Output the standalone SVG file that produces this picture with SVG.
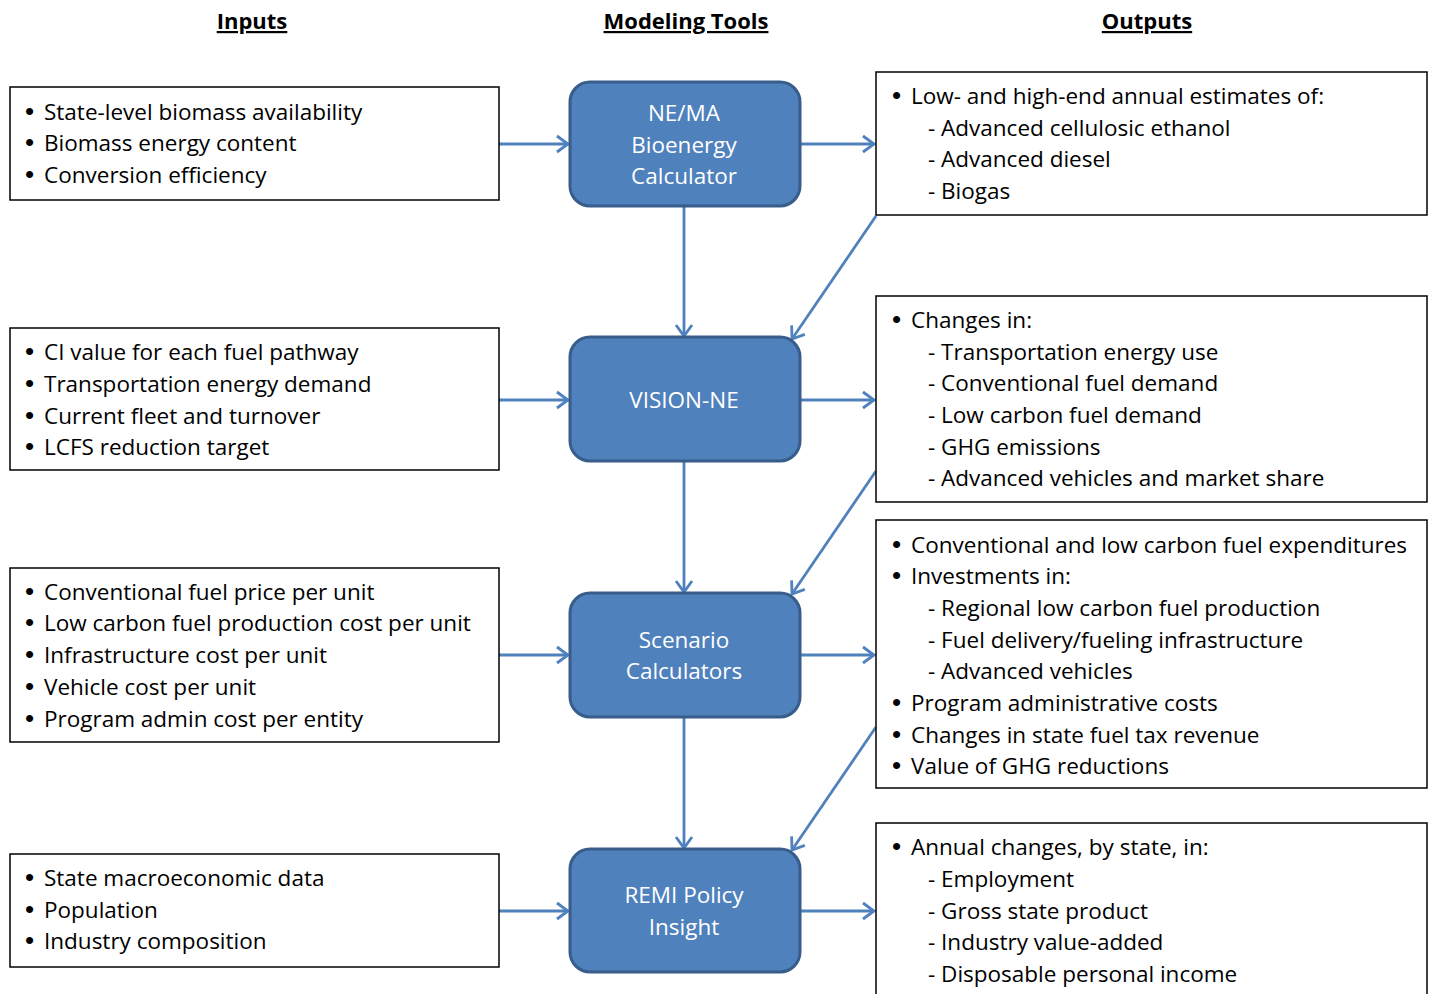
<svg xmlns="http://www.w3.org/2000/svg" width="1433" height="994" viewBox="0 0 1433 994">
<defs>
<style>
.box{fill:#fff;stroke:#000;stroke-width:1.5}
.tool{fill:#4F81BD;stroke:#385D8A;stroke-width:3}
.t{font-family:"Open Sans","Noto Sans",sans-serif;font-size:22.5px;fill:#000}
.b{font-family:"Liberation Sans",sans-serif;font-size:26px}
.w{font-family:"Open Sans","Noto Sans",sans-serif;font-size:22.5px;fill:#fff;text-anchor:middle}
.h{font-family:"Open Sans","Noto Sans",sans-serif;font-size:22px;font-weight:bold;fill:#000;text-anchor:middle;text-decoration:underline}
.c{stroke:#4F81BD;stroke-width:2.8;fill:none;marker-end:url(#ah)}
</style>
<marker id="ah" markerUnits="userSpaceOnUse" markerWidth="20" markerHeight="20" viewBox="0 0 20 20" refX="14" refY="10" orient="auto">
<path d="M3,2 L14,10 L3,18" fill="none" stroke="#4F81BD" stroke-width="2.8"/>
</marker>
</defs>
<rect width="1433" height="994" fill="#fff"/>
<g id="headers">
<text class="h" x="252" y="29">Inputs</text>
<text class="h" x="686" y="29">Modeling Tools</text>
<text class="h" x="1147" y="29">Outputs</text>
</g>
<g id="connectors">
<line class="c" x1="499" y1="144" x2="568" y2="144"/>
<line class="c" x1="499" y1="400" x2="568" y2="400"/>
<line class="c" x1="499" y1="655" x2="568" y2="655"/>
<line class="c" x1="499" y1="911" x2="568" y2="911"/>
<line class="c" x1="800" y1="144" x2="874" y2="144"/>
<line class="c" x1="800" y1="400" x2="874" y2="400"/>
<line class="c" x1="800" y1="655" x2="874" y2="655"/>
<line class="c" x1="800" y1="911" x2="874" y2="911"/>
<line class="c" x1="684" y1="206" x2="684" y2="336"/>
<line class="c" x1="684" y1="461" x2="684" y2="592"/>
<line class="c" x1="684" y1="717" x2="684" y2="848"/>
<line class="c" x1="876" y1="216" x2="792" y2="339"/>
<line class="c" x1="876" y1="471" x2="792" y2="594"/>
<line class="c" x1="876" y1="727" x2="792" y2="850"/>
</g>
<g id="in1">
<rect class="box" x="10" y="87" width="489" height="113"/>
<text class="t"><tspan class="b" x="25" y="120">•</tspan><tspan x="44">State-level biomass availability</tspan></text>
<text class="t"><tspan class="b" x="25" y="151">•</tspan><tspan x="44">Biomass energy content</tspan></text>
<text class="t"><tspan class="b" x="25" y="183">•</tspan><tspan x="44">Conversion efficiency</tspan></text>
</g>
<g id="in2">
<rect class="box" x="10" y="328" width="489" height="142"/>
<text class="t"><tspan class="b" x="25" y="360">•</tspan><tspan x="44">CI value for each fuel pathway</tspan></text>
<text class="t"><tspan class="b" x="25" y="392">•</tspan><tspan x="44">Transportation energy demand</tspan></text>
<text class="t"><tspan class="b" x="25" y="424">•</tspan><tspan x="44">Current fleet and turnover</tspan></text>
<text class="t"><tspan class="b" x="25" y="455">•</tspan><tspan x="44">LCFS reduction target</tspan></text>
</g>
<g id="in3">
<rect class="box" x="10" y="568" width="489" height="174"/>
<text class="t"><tspan class="b" x="25" y="600">•</tspan><tspan x="44">Conventional fuel price per unit</tspan></text>
<text class="t"><tspan class="b" x="25" y="631">•</tspan><tspan x="44">Low carbon fuel production cost per unit</tspan></text>
<text class="t"><tspan class="b" x="25" y="663">•</tspan><tspan x="44">Infrastructure cost per unit</tspan></text>
<text class="t"><tspan class="b" x="25" y="695">•</tspan><tspan x="44">Vehicle cost per unit</tspan></text>
<text class="t"><tspan class="b" x="25" y="727">•</tspan><tspan x="44">Program admin cost per entity</tspan></text>
</g>
<g id="in4">
<rect class="box" x="10" y="854" width="489" height="113"/>
<text class="t"><tspan class="b" x="25" y="886">•</tspan><tspan x="44">State macroeconomic data</tspan></text>
<text class="t"><tspan class="b" x="25" y="918">•</tspan><tspan x="44">Population</tspan></text>
<text class="t"><tspan class="b" x="25" y="949">•</tspan><tspan x="44">Industry composition</tspan></text>
</g>
<g id="tool1">
<rect class="tool" x="570" y="82" width="230" height="124" rx="20"/>
<text class="w" x="684" y="121">NE/MA</text>
<text class="w" x="684" y="153">Bioenergy</text>
<text class="w" x="684" y="184">Calculator</text>
</g>
<g id="tool2">
<rect class="tool" x="570" y="337" width="230" height="124" rx="20"/>
<text class="w" x="684" y="408">VISION-NE</text>
</g>
<g id="tool3">
<rect class="tool" x="570" y="593" width="230" height="124" rx="20"/>
<text class="w" x="684" y="648">Scenario</text>
<text class="w" x="684" y="679">Calculators</text>
</g>
<g id="tool4">
<rect class="tool" x="570" y="849" width="230" height="123" rx="20"/>
<text class="w" x="684" y="903">REMI Policy</text>
<text class="w" x="684" y="935">Insight</text>
</g>
<g id="out1">
<rect class="box" x="876" y="72" width="551" height="143"/>
<text class="t"><tspan class="b" x="892" y="104">•</tspan><tspan x="911">Low- and high-end annual estimates of:</tspan></text>
<text class="t" x="928" y="136">- Advanced cellulosic ethanol</text>
<text class="t" x="928" y="167">- Advanced diesel</text>
<text class="t" x="928" y="199">- Biogas</text>
</g>
<g id="out2">
<rect class="box" x="876" y="296" width="551" height="206"/>
<text class="t"><tspan class="b" x="892" y="328">•</tspan><tspan x="911">Changes in:</tspan></text>
<text class="t" x="928" y="360">- Transportation energy use</text>
<text class="t" x="928" y="391">- Conventional fuel demand</text>
<text class="t" x="928" y="423">- Low carbon fuel demand</text>
<text class="t" x="928" y="455">- GHG emissions</text>
<text class="t" x="928" y="486">- Advanced vehicles and market share</text>
</g>
<g id="out3">
<rect class="box" x="876" y="520" width="551" height="268"/>
<text class="t"><tspan class="b" x="892" y="553">•</tspan><tspan x="911">Conventional and low carbon fuel expenditures</tspan></text>
<text class="t"><tspan class="b" x="892" y="584">•</tspan><tspan x="911">Investments in:</tspan></text>
<text class="t" x="928" y="616">- Regional low carbon fuel production</text>
<text class="t" x="928" y="648">- Fuel delivery/fueling infrastructure</text>
<text class="t" x="928" y="679">- Advanced vehicles</text>
<text class="t"><tspan class="b" x="892" y="711">•</tspan><tspan x="911">Program administrative costs</tspan></text>
<text class="t"><tspan class="b" x="892" y="743">•</tspan><tspan x="911">Changes in state fuel tax revenue</tspan></text>
<text class="t"><tspan class="b" x="892" y="774">•</tspan><tspan x="911">Value of GHG reductions</tspan></text>
</g>
<g id="out4">
<rect class="box" x="876" y="823" width="551" height="190"/>
<text class="t"><tspan class="b" x="892" y="855">•</tspan><tspan x="911">Annual changes, by state, in:</tspan></text>
<text class="t" x="928" y="887">- Employment</text>
<text class="t" x="928" y="919">- Gross state product</text>
<text class="t" x="928" y="950">- Industry value-added</text>
<text class="t" x="928" y="982">- Disposable personal income</text>
</g>
</svg>
